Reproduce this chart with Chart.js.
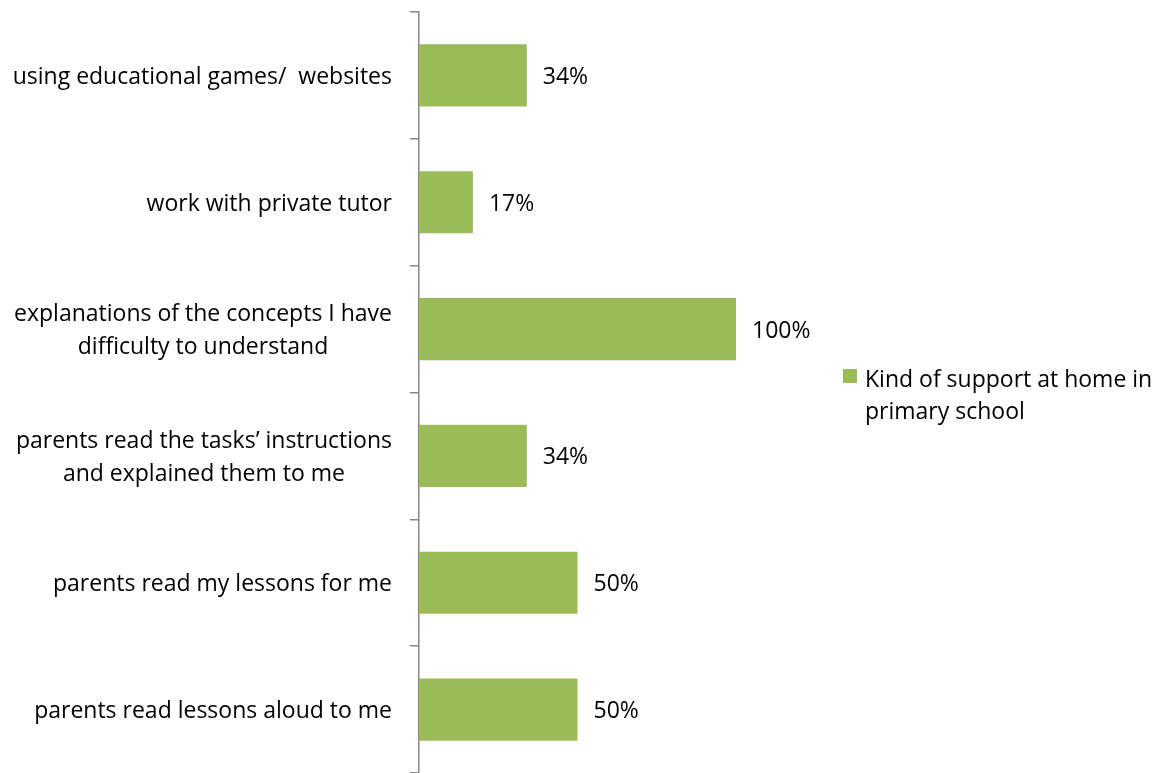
<!DOCTYPE html>
<html>
<head>
<meta charset="utf-8">
<script src="https://cdn.jsdelivr.net/npm/chart.js@4/dist/chart.umd.min.js"></script>
<style>
  html, body { margin: 0; padding: 0; background: #ffffff; }
  #wrap { width: 1160px; height: 773px; position: relative; }
</style>
</head>
<body>
<div id="wrap"><canvas id="c" width="1160" height="773"></canvas></div>
<script>
// Categories, top to bottom (each entry is the list of wrapped lines)
const categories = [
  ["using educational games/  websites"],
  ["work with private tutor"],
  ["explanations of the concepts I have", "difficulty to understand"],
  ["parents read the tasks\u2019 instructions", "and explained them to me"],
  ["parents read my lessons for me"],
  ["parents read lessons aloud to me"]
];
const supportShares = [34, 17, 100, 34, 50, 50];
const seriesName = ["Kind of support at home in", "primary school"];

const FONT = "'Open Sans', Lato, sans-serif";
const FONT_SIZE = 23;
const BAR_GREEN = "#9BBB59";
const AXIS_GREY = "#868686";

// Category labels: lines centred within each block, block right-aligned to the axis
const categoryLabels = {
  id: "categoryLabels",
  afterDraw(chart) {
    const ctx = chart.ctx;
    const y = chart.scales.y;
    const right = 392;
    const lineH = 33;
    ctx.save();
    ctx.font = FONT_SIZE + "px " + FONT;
    ctx.fillStyle = "#000000";
    ctx.textBaseline = "middle";
    ctx.textAlign = "center";
    categories.forEach((lines, i) => {
      const cy = y.getPixelForValue(i) + 2;
      const w = Math.max(...lines.map(l => ctx.measureText(l).width));
      const cx = right - w / 2;
      const top = cy - (lines.length - 1) * lineH / 2;
      lines.forEach((l, k) => ctx.fillText(l, cx, top + k * lineH));
    });
    ctx.restore();
  }
};

// Value labels just past the end of each bar
const valueLabels = {
  id: "valueLabels",
  afterDatasetsDraw(chart) {
    const ctx = chart.ctx;
    const meta = chart.getDatasetMeta(0);
    ctx.save();
    ctx.font = FONT_SIZE + "px " + FONT;
    ctx.fillStyle = "#000000";
    ctx.textBaseline = "middle";
    ctx.textAlign = "left";
    meta.data.forEach((bar, i) => {
      ctx.fillText(supportShares[i] + "%", bar.x + 16, bar.y + 2);
    });
    ctx.restore();
  }
};

// Legend on the right with a wrapped series name
const sideLegend = {
  id: "sideLegend",
  afterDraw(chart) {
    const ctx = chart.ctx;
    ctx.save();
    ctx.fillStyle = BAR_GREEN;
    ctx.fillRect(843, 369, 14, 14);
    ctx.font = FONT_SIZE + "px " + FONT;
    ctx.fillStyle = "#000000";
    ctx.textBaseline = "middle";
    ctx.textAlign = "left";
    seriesName.forEach((l, k) => ctx.fillText(l, 865, 380 + k * 32));
    ctx.restore();
  }
};

new Chart(document.getElementById("c"), {
  type: "bar",
  data: {
    labels: categories.map(c => c.join(" ")),
    datasets: [{
      label: seriesName.join(" "),
      data: supportShares,
      backgroundColor: BAR_GREEN,
      borderWidth: 0,
      categoryPercentage: 1,
      barPercentage: 0.49
    }]
  },
  options: {
    indexAxis: "y",
    responsive: false,
    animation: false,
    layout: { padding: { top: 12, bottom: 0, left: 0, right: 424 } },
    plugins: {
      legend: { display: false },
      tooltip: { enabled: false }
    },
    scales: {
      x: { display: false, min: 0, max: 100 },
      y: {
        grid: {
          offset: true,
          drawOnChartArea: false,
          drawTicks: true,
          tickLength: 9,
          color: AXIS_GREY,
          lineWidth: 1.5
        },
        border: { display: true, color: AXIS_GREY, width: 1.5 },
        ticks: { display: false },
        afterFit(scale) { scale.width = 419; }
      }
    }
  },
  plugins: [categoryLabels, valueLabels, sideLegend]
});
</script>
</body>
</html>
